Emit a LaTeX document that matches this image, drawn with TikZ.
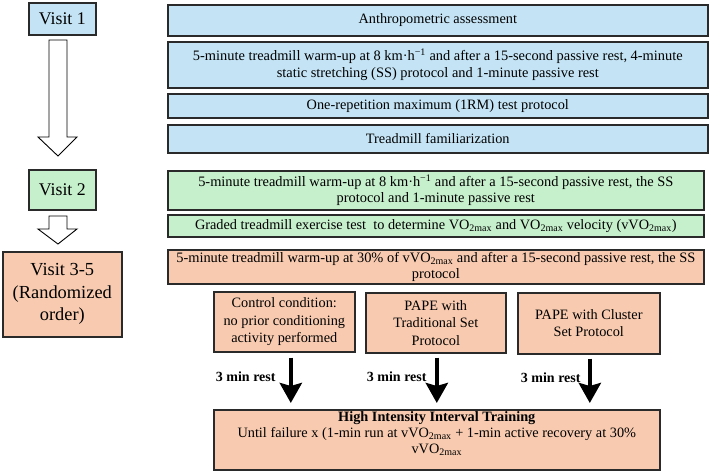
\documentclass[tikz,border=0pt]{standalone}
\usepackage{fontspec}
\setmainfont{Liberation Serif}
\usetikzlibrary{arrows.meta,calc}
\definecolor{vblue}{HTML}{C4E4F5}
\definecolor{vgreen}{HTML}{C6EFCC}
\definecolor{vorange}{HTML}{F8CBB0}
\definecolor{vborder}{HTML}{2A2A2A}
\newcommand{\vmax}{VO\textsubscript{2max}}
\newcommand{\kmh}{km·h\textsuperscript{\char"2212 1}}
\newcommand{\fs}[2]{\fontsize{#1}{#2}\selectfont}
\tikzset{
  box/.style={draw=vborder, line width=1.6pt, inner sep=0pt, align=center, anchor=north west,
    font=\fs{14.3}{16.5}},
  bluebox/.style={box, fill=vblue},
  greenbox/.style={box, fill=vgreen},
  orangebox/.style={box, fill=vorange},
  visitbox/.style={font=\fs{17.8}{22.5}},
  condbox/.style={orangebox, font=\fs{14.3}{17.5}},
  plain/.style={inner sep=0pt, align=center, font=\fs{14.3}{16}},
  hollow/.style={draw=black, line width=0.9pt, fill=white, line join=miter},
  bk/.style={line width=4.5pt, -{Stealth[length=20pt,width=22pt,inset=3pt]}},
  restlbl/.style={font=\bfseries\fs{14}{16}, anchor=east, inner sep=0pt}
}
\begin{document}
\begin{tikzpicture}[x=1pt,y=-1pt]
\fill[white] (0,0) rectangle (709,472);
\useasboundingbox (0,0) rectangle (709,472);

% left column
\node[bluebox, visitbox, minimum width=67pt, minimum height=32pt] (v1) at (28,2) {Visit 1};
\node[greenbox, visitbox, minimum width=67pt, minimum height=40pt] (v2) at (28,169) {Visit 2};
\node[orangebox, visitbox, font=\fs{18.4}{22.5}, minimum width=119pt, minimum height=85pt] (v3) at (2,251) {Visit 3-5\\(Randomized\\order)};

% hollow arrows
\coordinate (h1) at (58,40);
\draw[hollow] ($(h1)+(-9,0)$) -- ($(h1)+(9,0)$) -- ($(h1)+(9,97)$) -- ($(h1)+(19,97)$)
  -- ($(h1)+(0,116)$) -- ($(h1)+(-20,97)$) -- ($(h1)+(-9,97)$) -- cycle;
\coordinate (h2) at (58,216);
\draw[hollow] ($(h2)+(-9,0)$) -- ($(h2)+(9,0)$) -- ($(h2)+(9,13)$) -- ($(h2)+(19,13)$)
  -- ($(h2)+(0,28)$) -- ($(h2)+(-20,13)$) -- ($(h2)+(-9,13)$) -- cycle;

% right column
\node[bluebox, minimum width=540pt, minimum height=31pt] (b1) at (167,4) {Anthropometric assessment};
\node[bluebox, font=\fs{14.4}{16.5}, minimum width=540pt, minimum height=46pt] (b2) at (167,41)
  {5-minute treadmill warm-up at 8 \kmh\ and after a 15-second passive rest, 4-minute\\static stretching (SS) protocol and 1-minute passive rest};
\node[bluebox, minimum width=540pt, minimum height=24pt] (b3) at (167,93) {One-repetition maximum (1RM) test protocol};
\node[bluebox, minimum width=540pt, minimum height=28pt] (b4) at (167,124) {Treadmill familiarization};

\node[greenbox, font=\fs{14.4}{16.5}, minimum width=536pt, minimum height=39pt] (g1) at (167,170)
  {5-minute treadmill warm-up at 8 \kmh\ and after a 15-second passive rest, the SS\\protocol and 1-minute passive rest};
\node[greenbox, minimum width=536pt, minimum height=22pt] (g2) at (167,214)
  {Graded treadmill exercise test \ to determine \vmax\ and \vmax\ velocity (v\vmax)};

\node[orangebox, font=\fs{14.4}{16.5}, minimum width=536pt, minimum height=34pt] (o1) at (167,249)
  {5-minute treadmill warm-up at 30\% of v\vmax\ and after a 15-second passive rest, the SS\\protocol};

\node[condbox, minimum width=141pt, minimum height=60pt] (c1) at (213,291)
  {Control condition:\\no prior conditioning\\activity performed};
\node[condbox, minimum width=140pt, minimum height=60pt] (c2) at (365,292)
  {PAPE with\\Traditional Set\\Protocol};
\node[condbox, minimum width=142pt, minimum height=61pt] (c3) at (517,292)
  {PAPE with Cluster\\Set Protocol};

\node[orangebox, minimum width=446pt, minimum height=60pt] (hiit) at (213,409) {};
\node[plain] (hiittext) at ([yshift=6pt]hiit.center)
  {\textbf{High Intensity Interval Training}\\Until failure x (1-min run at v\vmax\ + 1-min active recovery at 30\%\\v\vmax};

% black arrows
\draw[bk] ([xshift=6.5pt,yshift=-5pt]c1.south) -- ([xshift=6.5pt,yshift=6pt]c1.south |- hiit.north)
  node[restlbl, pos=0.43, xshift=-13pt] {3 min rest};
\draw[bk] ([xshift=1pt,yshift=-4pt]c2.south) -- ([xshift=1pt,yshift=6pt]c2.south |- hiit.north)
  node[restlbl, pos=0.43, xshift=-8pt] {3 min rest};
\draw[bk] ([xshift=1pt,yshift=-4pt]c3.south) -- ([xshift=1pt,yshift=6pt]c3.south |- hiit.north)
  node[restlbl, pos=0.43, xshift=-7pt] {3 min rest};
\end{tikzpicture}
\end{document}
